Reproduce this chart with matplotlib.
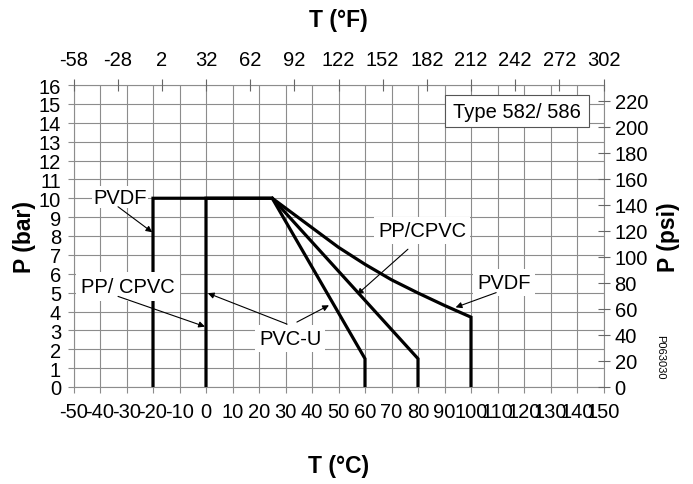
import matplotlib.pyplot as plt
from matplotlib import font_manager
from matplotlib.patches import Rectangle

# the chart uses a tall, narrow sans face; take Liberation Sans Narrow if present
try:
    font_manager.findfont('Liberation Sans Narrow', fallback_to_default=False)
    plt.rcParams['font.family'] = ['Liberation Sans Narrow', 'DejaVu Sans']
    fs = 17
except ValueError:
    plt.rcParams['font.family'] = ['Liberation Sans', 'DejaVu Sans']
    fs = 14.5

# pressure / temperature curves (T in degC, P in bar)
pvdf_T = [-20, -20, 25, 50, 60, 70, 80, 90, 100, 100]
pvdf_P = [0, 10, 10, 7.4, 6.5, 5.68, 4.98, 4.32, 3.7, 0]
pp_T = [0, 0, 25, 80, 80]
pp_P = [0, 10, 10, 1.5, 0]
pvcu_T = [25, 60, 60]
pvcu_P = [10, 1.5, 0]

c_ticks = list(range(-50, 151, 10))
f_ticks = [-58, -28, 2, 32, 62, 92, 122, 152, 182, 212, 242, 272, 302]
bar_ticks = list(range(0, 17))
psi_ticks = list(range(0, 221, 20))
bar_to_psi = 14.5038

grid_col = '#8c8c8c'

fig = plt.figure(figsize=(6.93, 4.85), dpi=100)
ax = fig.add_axes([73.5/693, 97/485, 530/693, 302/485])

for T, P in [(pvdf_T, pvdf_P), (pp_T, pp_P), (pvcu_T, pvcu_P)]:
    ax.plot(T, P, color='black', lw=2.3, solid_joinstyle='miter', zorder=3)

ax.set_xlim(-50, 150)
ax.set_ylim(0, 16)
ax.set_xticks(c_ticks)
ax.set_xticklabels([str(t) for t in c_ticks])
ax.set_yticks(bar_ticks)
ax.grid(True, color=grid_col, lw=0.8)
ax.set_axisbelow(True)
ax.tick_params(direction='out', length=4, width=0.8, color=grid_col,
               labelsize=fs, pad=5)
ax.tick_params(axis='x', pad=7)
for s in ax.spines.values():
    s.set_color(grid_col)
    s.set_linewidth(0.8)

# top axis in degF
axt = ax.twiny()
axt.set_xlim(-50, 150)
axt.set_xticks([(f - 32) * 5 / 9 for f in f_ticks])
axt.set_xticklabels([str(f) for f in f_ticks])
axt.tick_params(direction='inout', length=9, width=0.8, color='#666666',
                labelsize=fs, pad=7)
# right axis in psi
axr = ax.twinx()
axr.set_ylim(0, 16 * bar_to_psi)
axr.set_yticks(psi_ticks)
axr.tick_params(direction='inout', length=8, width=0.8, color='#666666',
                labelsize=fs, pad=4)
for a in (axt, axr):
    for s in a.spines.values():
        s.set_visible(False)

def box(p):
    return dict(boxstyle='square,pad=%s' % p, fc='white', ec='none')

arrow = dict(arrowstyle='-|>', color='black', lw=0.8, mutation_scale=9,
             shrinkA=0, shrinkB=0)

ax.text(-32.5, 10.05, 'PVDF', fontsize=fs, ha='center', va='center',
        bbox=box(0.08), zorder=5)
ax.annotate('', xy=(-20.3, 8.2), xytext=(-33.2, 9.55), arrowprops=arrow, zorder=6)

ax.text(-29.4, 5.3, 'PP/ CPVC', fontsize=fs, ha='center', va='center',
        bbox=box(0.25), zorder=5)
ax.annotate('', xy=(-0.4, 3.2), xytext=(-33.2, 4.8), arrowprops=arrow, zorder=6)

ax.text(31.7, 2.55, 'PVC-U', fontsize=fs, ha='center', va='center',
        bbox=box(0.2), zorder=5)
ax.annotate('', xy=(0.7, 4.97), xytext=(30.6, 3.33), arrowprops=arrow, zorder=6)
ax.annotate('', xy=(46.4, 4.33), xytext=(34.3, 3.44), arrowprops=arrow, zorder=6)

ax.text(81.5, 8.3, 'PP/CPVC', fontsize=fs, ha='center', va='center',
        bbox=box(0.2), zorder=5)
ax.annotate('', xy=(57, 4.9), xytext=(76.2, 7.3), arrowprops=arrow, zorder=6)

ax.text(112.5, 5.55, 'PVDF', fontsize=fs, ha='center', va='center',
        bbox=box(0.2), zorder=5)
ax.annotate('', xy=(94.2, 4.22), xytext=(109.5, 5.0), arrowprops=arrow, zorder=6)

ax.add_patch(Rectangle((90.2, 13.76), 54.3, 1.69, fc='white', ec='#555555',
                       lw=0.8, zorder=4))
ax.text(117.3, 14.6, 'Type 582/ 586', fontsize=fs, ha='center', va='center',
        zorder=5)

fig.text(338.5/693, 1 - 21/485, 'T (°F)', fontsize=fs + 2, fontweight='bold',
         ha='center', va='center')
fig.text(338.5/693, 1 - 467/485, 'T (°C)', fontsize=fs + 2, fontweight='bold',
         ha='center', va='center')
fig.text(25/693, 1 - 237/485, 'P (bar)', fontsize=fs + 2, fontweight='bold',
         ha='center', va='center', rotation=90)
fig.text(668/693, 1 - 237/485, 'P (psi)', fontsize=fs + 2, fontweight='bold',
         ha='center', va='center', rotation=90)
fig.text(660/693, 1 - 357/485, 'P063030', fontsize=8, ha='center',
         va='center', rotation=270)

fig.savefig('out.png', dpi=100)
